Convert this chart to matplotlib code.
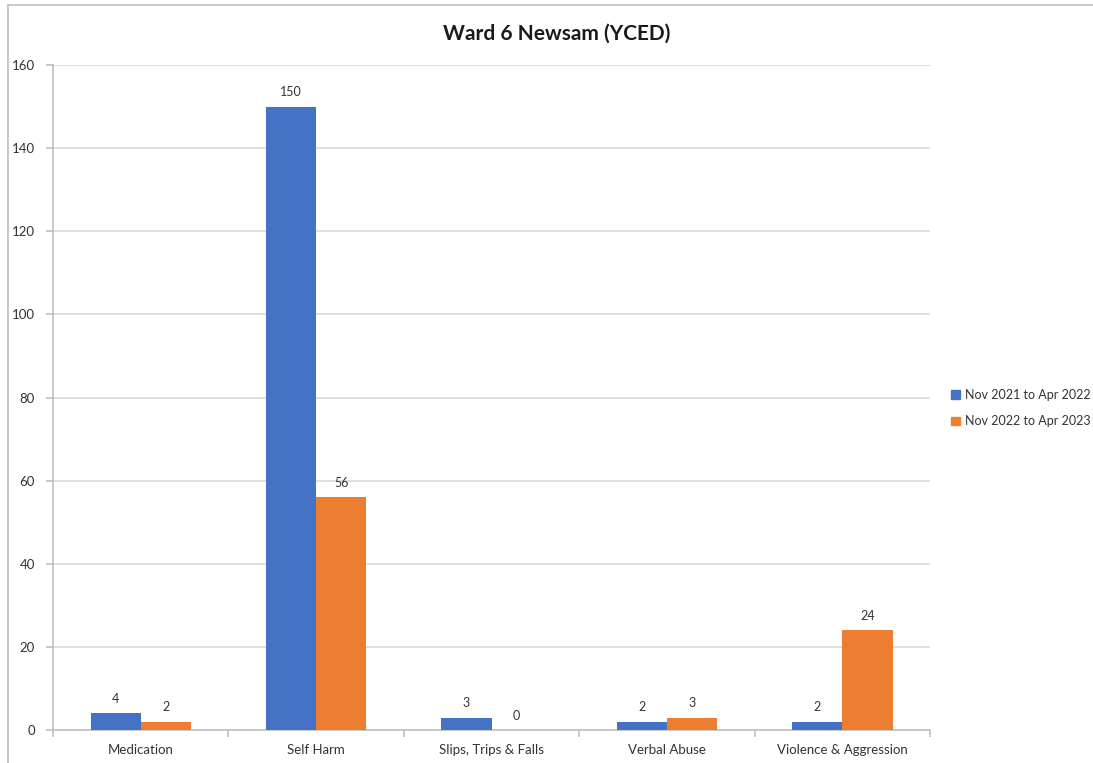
import matplotlib
matplotlib.use("Agg")
import matplotlib.pyplot as plt
import numpy as np
from matplotlib.lines import Line2D

plt.rcParams['font.family'] = ['Lato', 'DejaVu Sans']

categories = ["Medication", "Self Harm", "Slips, Trips & Falls", "Verbal Abuse", "Violence & Aggression"]
series_names = ["Nov 2021 to Apr 2022", "Nov 2022 to Apr 2023"]
values_2122 = [4, 150, 3, 2, 2]
values_2223 = [2, 56, 0, 3, 24]
colors = ["#4472C4", "#ED7D31"]

fig = plt.figure(figsize=(10.93, 7.63), dpi=100)
ax = fig.add_axes([0.0485, 0.0432, 0.8025, 0.8716])

x = np.arange(len(categories))
w = 0.286
for i, (vals, name, c) in enumerate(zip([values_2122, values_2223], series_names, colors)):
    b = ax.bar(x + (i - 0.5) * w, vals, width=w, color=c, label=name, zorder=3)
    for rect, v in zip(b, vals):
        ax.annotate(str(v), (rect.get_x() + rect.get_width() / 2, v),
                    xytext=(0, 6), textcoords="offset points",
                    ha="center", va="bottom", fontsize=9, color="#333333")

ax.set_xlim(-0.5, len(categories) - 0.5)
ax.set_ylim(0, 160)
ax.set_yticks(np.arange(0, 161, 20))
ax.yaxis.grid(True, color="#d9d9d9", linewidth=1.2, zorder=0)
ax.set_axisbelow(True)

ax.set_xticks(x)
ax.set_xticklabels(categories, fontsize=9.5, color="#333333")
ax.tick_params(axis="x", length=0, pad=10)
ax.set_xticks(np.arange(-0.5, len(categories)), minor=True)
ax.tick_params(axis="x", which="minor", length=5, color="#bfbfbf", width=1.2)
ax.tick_params(axis="y", length=5, color="#bfbfbf", width=1.2, labelsize=9.5,
               labelcolor="#333333", pad=8)

for s in ["top", "right"]:
    ax.spines[s].set_visible(False)
for s in ["left", "bottom"]:
    ax.spines[s].set_color("#bfbfbf")
    ax.spines[s].set_linewidth(1.2)

fig.text(0.509, 0.956, "Ward 6 Newsam (YCED)", ha="center", va="center",
         fontsize=15, fontweight="bold", color="#1a1a1a")

handles = [plt.Rectangle((0, 0), 1, 1, color=c) for c in colors]
fig.legend(handles, series_names, loc="center left", bbox_to_anchor=(0.867, 0.465),
           frameon=False, fontsize=9, handlelength=0.7, handleheight=0.7,
           handletextpad=0.4, labelspacing=1.15, labelcolor="#333333",
           borderaxespad=0.0, borderpad=0.3)

# outer chart border (left and top edges)
fig.add_artist(Line2D([0.0075, 0.0075], [0.0, 0.993], transform=fig.transFigure,
                      color="#bfbfbf", linewidth=1.2))
fig.add_artist(Line2D([0.0075, 1.0], [0.993, 0.993], transform=fig.transFigure,
                      color="#bfbfbf", linewidth=1.2))

fig.savefig("out.png", dpi=100, facecolor="white")
